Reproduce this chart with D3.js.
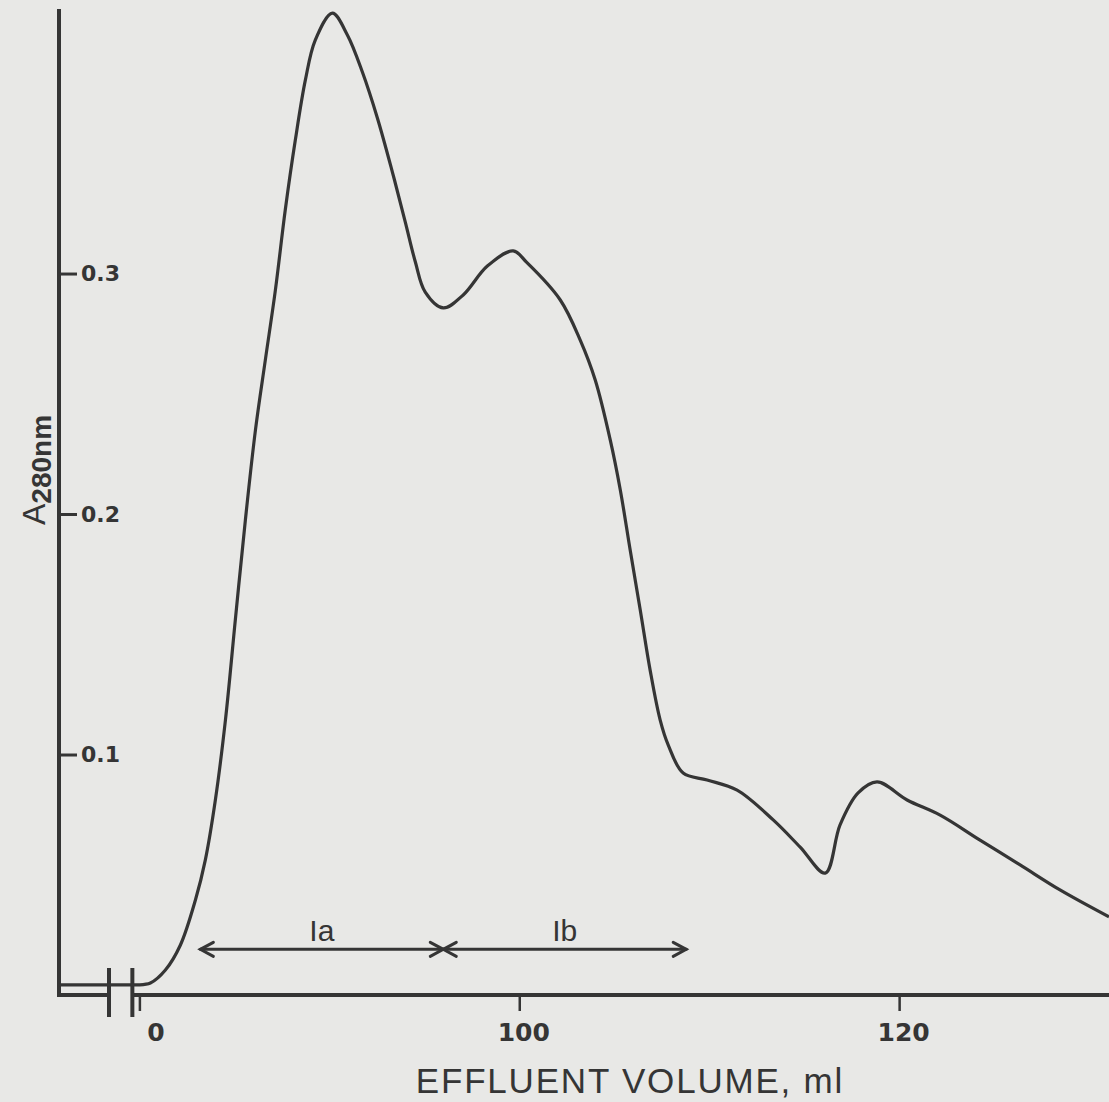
<!DOCTYPE html>
<html>
<head>
<meta charset="utf-8">
<script src="https://cdn.jsdelivr.net/npm/d3@7"></script>
<style>
  body { margin: 0; background: #e8e8e6; }
  svg { display: block; }
</style>
</head>
<body>
<div id="plot"></div>
<script>
// Canvas size
var svgWidth = 1109;
var svgHeight = 1102;

// Effluent volume (ml) and absorbance at 280 nm
var volume = [0, 78.4, 79.63, 79.9, 80.58, 81.37, 82.16, 82.95, 83.47, 84.0, 84.53, 85.05,
  85.58, 86.11, 86.63, 87.16, 87.68, 88.21, 88.74, 89.26, 90.16, 90.95, 91.74,
  92.53, 93.32, 94.0, 94.53, 95.05, 96.0, 97.05, 98.32, 99.68, 100.42, 102.16,
  103.21, 104.0, 104.79, 105.32, 105.84, 106.37, 106.89, 107.42, 107.84, 108.63,
  109.89, 111.47, 113.37, 114.79, 116.11, 116.89, 117.84, 118.84, 120.42, 122.16,
  124.26, 126.37, 128.47, 131.05];
var absorbance = [0.0042, 0.0042, 0.0042, 0.0042, 0.0050, 0.0104, 0.0208, 0.0395, 0.0561, 0.0811, 0.1143, 0.1559,
  0.1975, 0.2349, 0.264, 0.2931, 0.3264, 0.3555, 0.3805, 0.3971, 0.4083, 0.3992, 0.3838,
  0.3647, 0.3422, 0.3214, 0.3048, 0.2923, 0.2857, 0.2911, 0.3031, 0.3094, 0.3044, 0.289,
  0.2723, 0.2557, 0.2308, 0.21, 0.185, 0.1601, 0.1351, 0.1143, 0.104, 0.0923,
  0.0894, 0.0852, 0.0728, 0.0615, 0.0507, 0.0707, 0.084, 0.0886, 0.0811, 0.0748,
  0.0644, 0.0541, 0.0437, 0.0325];

// Axis ticks
var xTickValues = [80, 100, 120];
var xTickLabels = ["0", "100", "120"];
var yTickValues = [0.1, 0.2, 0.3];
var yTickLabels = ["0.1", "0.2", "0.3"];

// Axis break (ml) and fraction ranges
var breakStart = 78.4;
var breakEnd = 79.63;
var fractionNames = ["Ia", "Ib"];
var fractionStart = [83.21, 96.0];
var fractionEnd = [96.0, 108.79];
var fractionLevel = 0.019;

var svg = d3.select("#plot")
  .append("svg")
  .attr("width", svgWidth)
  .attr("height", svgHeight);

svg.append("rect")
  .attr("width", svgWidth)
  .attr("height", svgHeight)
  .attr("fill", "#e8e8e6");

// Scales: the part before the break is squeezed into the stub left of it
var xScale = d3.scaleLinear()
  .domain([0, breakStart, 131.05])
  .range([59, 109, 1109]);
var yScale = d3.scaleLinear()
  .domain([0, 0.41])
  .range([995, 9]);

var ink = "#353535";

// y axis
svg.append("line")
  .attr("x1", xScale(0)).attr("x2", xScale(0))
  .attr("y1", yScale(0.41)).attr("y2", yScale(0) + 2)
  .attr("stroke", ink).attr("stroke-width", 4);

var leftAxis = d3.axisRight(yScale)
  .tickValues(yTickValues)
  .tickSize(18)
  .tickPadding(4)
  .tickFormat((d, i) => yTickLabels[i]);

var yAxisG = svg.append("g")
  .attr("transform", `translate(${xScale(0)}, 0)`)
  .call(leftAxis);
yAxisG.select(".domain").remove();
yAxisG.selectAll(".tick line").attr("stroke", ink).attr("stroke-width", 3);
yAxisG.selectAll(".tick text")
  .attr("fill", ink)
  .style("font-family", "DejaVu Sans")
  .style("font-weight", "bold")
  .style("font-size", "22px");

// x axis, stub before the break and main part after it
svg.append("line")
  .attr("x1", xScale(0) - 2).attr("x2", xScale(breakStart))
  .attr("y1", yScale(0)).attr("y2", yScale(0))
  .attr("stroke", ink).attr("stroke-width", 4);
svg.append("line")
  .attr("x1", xScale(breakEnd)).attr("x2", svgWidth)
  .attr("y1", yScale(0)).attr("y2", yScale(0))
  .attr("stroke", ink).attr("stroke-width", 4);

// break bars
[breakStart, breakEnd].forEach(function(v) {
  svg.append("line")
    .attr("x1", xScale(v)).attr("x2", xScale(v))
    .attr("y1", yScale(0) - 27).attr("y2", yScale(0) + 22)
    .attr("stroke", ink).attr("stroke-width", 4);
});

var bottomAxis = d3.axisBottom(xScale)
  .tickValues(xTickValues)
  .tickSize(16)
  .tickPadding(12)
  .tickFormat((d, i) => xTickLabels[i]);

var xAxisG = svg.append("g")
  .attr("transform", `translate(0, ${yScale(0)})`)
  .call(bottomAxis);
xAxisG.select(".domain").remove();
xAxisG.selectAll(".tick line").attr("stroke", ink).attr("stroke-width", 2.5);
xAxisG.selectAll(".tick text")
  .attr("fill", ink)
  .attr("dx", (d, i) => i === 0 ? 16 : 4)
  .style("font-family", "DejaVu Sans")
  .style("font-weight", "bold")
  .style("font-size", "25px");

// the trace
var rows = volume.map((v, i) => ({ v: v, a: absorbance[i] }));
var line = d3.line()
  .defined(d => d.v <= breakStart || d.v >= breakEnd)
  .x(d => xScale(d.v))
  .y(d => yScale(d.a))
  .curve(d3.curveCatmullRom.alpha(0.5));

svg.append("path")
  .datum(rows)
  .attr("d", line)
  .attr("fill", "none")
  .attr("stroke", ink)
  .attr("stroke-width", 3.2)
  .attr("stroke-linejoin", "round");

// fraction arrows
var fy = yScale(fractionLevel);
fractionNames.forEach(function(name, i) {
  var x1 = xScale(fractionStart[i]);
  var x2 = xScale(fractionEnd[i]);
  var g = svg.append("g")
    .attr("stroke", ink)
    .attr("stroke-width", 3)
    .attr("fill", "none")
    .attr("stroke-linecap", "round");
  g.append("line").attr("x1", x1).attr("x2", x2).attr("y1", fy).attr("y2", fy);
  g.append("path").attr("d", `M${x1 + 13},${fy - 7} L${x1},${fy} L${x1 + 13},${fy + 7}`);
  g.append("path").attr("d", `M${x2 - 13},${fy - 7} L${x2},${fy} L${x2 - 13},${fy + 7}`);
  svg.append("text")
    .attr("x", (x1 + x2) / 2)
    .attr("y", fy - 8)
    .attr("text-anchor", "middle")
    .attr("fill", ink)
    .style("font-family", "Liberation Sans")
    .style("font-size", "30px")
    .text(name);
});

// axis titles
svg.append("text")
  .attr("x", 630)
  .attr("y", 1093)
  .attr("text-anchor", "middle")
  .attr("fill", ink)
  .style("font-family", "Liberation Sans")
  .style("font-size", "35px")
  .style("letter-spacing", "1.8px")
  .text("EFFLUENT VOLUME, ml");

var yTitle = svg.append("text")
  .attr("transform", "translate(45, 470) rotate(-90)")
  .attr("text-anchor", "middle")
  .attr("fill", ink)
  .style("font-family", "Liberation Sans")
  .style("font-size", "32px");
yTitle.append("tspan").text("A");
yTitle.append("tspan")
  .attr("dy", 6)
  .style("font-size", "28px")
  .style("font-weight", "bold")
  .text("280nm");
</script>
</body>
</html>
